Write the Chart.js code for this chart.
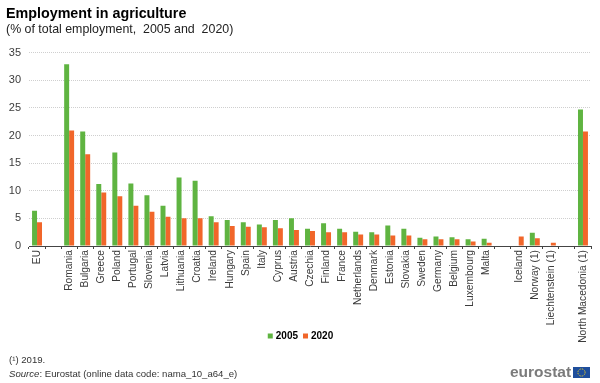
<!DOCTYPE html>
<html>
<head>
<meta charset="utf-8">
<script src="https://cdn.jsdelivr.net/npm/chart.js@4"></script>
<style>
    html, body { margin: 0; padding: 0; background: #fff; }
    #wrap { position: relative; width: 600px; height: 383px; overflow: hidden; font-family: "Liberation Sans", Arial, sans-serif; }
    #note { position: absolute; left: 9px; top: 353px; font-size: 9.6px; line-height: 14px; color: #333; }
    #logo { position: absolute; left: 510px; top: 360px; font: bold 15.5px "Liberation Sans", Arial, sans-serif; line-height: 24px; color: #7b7b7b; }
    #flag { position: absolute; left: 573px; top: 367px; }
</style>
</head>
<body>
<div id="wrap">
    <canvas id="chart" width="600" height="383"></canvas>
    <div id="note">(&sup1;) 2019.<br><i>Source</i>: Eurostat (online data code: nama_10_a64_e)</div>
    <div id="logo">eurostat</div>
    <svg id="flag" width="17" height="11">
        <rect width="17" height="11" fill="#1f4e9c"></rect>
        <circle cx="8.5" cy="5.5" r="3.6" fill="none" stroke="#f2d21f" stroke-width="1" stroke-dasharray="1 0.9"></circle>
    </svg>
</div>
<script>
const categories = ['EU', '', 'Romania', 'Bulgaria', 'Greece', 'Poland', 'Portugal', 'Slovenia', 'Latvia',
    'Lithuania', 'Croatia', 'Ireland', 'Hungary', 'Spain', 'Italy', 'Cyprus', 'Austria', 'Czechia', 'Finland',
    'France', 'Netherlands', 'Denmark', 'Estonia', 'Slovakia', 'Sweden', 'Germany', 'Belgium', 'Luxembourg',
    'Malta', '', 'Iceland', 'Norway (1)', 'Liechtenstein (1)', '', 'North Macedonia (1)'];
const values2005 = [6.4, null, 32.9, 20.7, 11.2, 16.9, 11.3, 9.2, 7.3, 12.4, 11.8, 5.4, 4.7, 4.3, 3.9, 4.7, 5.0,
    3.1, 4.1, 3.1, 2.6, 2.5, 3.7, 3.1, 1.5, 1.7, 1.6, 1.2, 1.3, null, null, 2.4, null, null, 24.7];
const values2020 = [4.3, null, 20.9, 16.6, 9.7, 9.0, 7.3, 6.2, 5.3, 5.0, 5.0, 4.3, 3.6, 3.5, 3.4, 3.2, 2.9,
    2.7, 2.5, 2.5, 2.1, 2.1, 1.9, 1.9, 1.2, 1.2, 1.2, 0.8, 0.6, null, 1.7, 1.4, 0.6, null, 20.7];
const yTicks = [0, 5, 10, 15, 20, 25, 30, 35];

const green = '#5fb441';
const orange = '#f1662a';
const fontName = '"Liberation Sans", Arial, sans-serif';

// the long rotated labels run down beside the legend, so pull the legend up over the axis box
const moveLegend = {
    id: 'moveLegend',
    beforeDraw(chart) {
        chart.legend.top = 324;
        chart.legend.left += 3;
        chart.legend.right += 3;
    }
};

new Chart(document.querySelector('#chart').getContext('2d'), {
    type: 'bar',
    plugins: [moveLegend],
    data: {
        labels: categories,
        datasets: [
            { label: '2005', data: values2005, backgroundColor: green, categoryPercentage: 0.62, barPercentage: 1 },
            { label: '2020', data: values2020, backgroundColor: orange, categoryPercentage: 0.62, barPercentage: 1 }
        ]
    },
    options: {
        responsive: false,
        animation: false,
        layout: { padding: { left: 6, right: 9, top: 0, bottom: 10 } },
        plugins: {
            title: {
                display: true,
                text: 'Employment in agriculture',
                align: 'start',
                color: '#000',
                font: { family: fontName, size: 14.3, weight: 'bold', lineHeight: 1.1 },
                padding: { top: 6, bottom: 0 }
            },
            subtitle: {
                display: true,
                text: '(% of total employment,  2005 and  2020)',
                align: 'start',
                color: '#222',
                font: { family: fontName, size: 12.4, lineHeight: 1.2 },
                padding: { top: 0, bottom: 16 }
            },
            legend: {
                position: 'bottom',
                labels: {
                    usePointStyle: true,
                    pointStyle: 'rect',
                    boxWidth: 1,
                    boxHeight: 5,
                    padding: 7,
                    color: '#000',
                    font: { family: fontName, size: 10, weight: 'bold' }
                }
            },
            tooltip: { enabled: false }
        },
        scales: {
            x: {
                grid: { drawOnChartArea: false, offset: true, tickLength: 3, color: '#444' },
                border: { color: '#444' },
                ticks: { autoSkip: false, maxRotation: 90, minRotation: 90, padding: 1, color: '#3c3c3c', font: { family: fontName, size: 10.2 } },
                afterFit: scale => { scale.height = 100; }
            },
            y: {
                min: 0,
                max: 35,
                afterBuildTicks: scale => { scale.ticks = yTicks.map(v => ({ value: v })); },
                grid: { color: '#cfcfcf', drawTicks: false },
                border: { display: false, dash: [1, 1] },
                ticks: { padding: 8, color: '#3c3c3c', font: { family: fontName, size: 11 } },
                afterFit: scale => { scale.width = 23; }
            }
        }
    }
});
</script>
</body>
</html>
